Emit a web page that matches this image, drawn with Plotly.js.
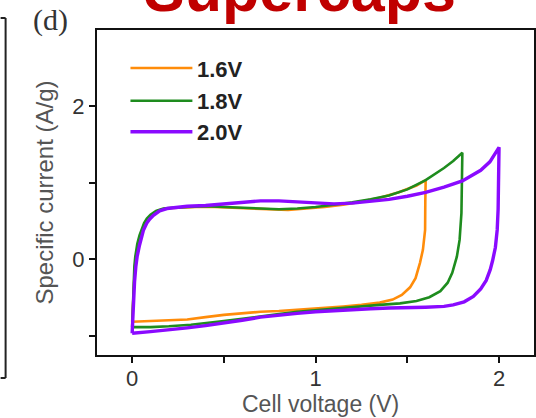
<!DOCTYPE html>
<html>
<head>
<meta charset="utf-8">
<script src="https://cdn.plot.ly/plotly-3.0.1.min.js"></script>
<style>
  html, body { margin: 0; padding: 0; background: #fff; overflow: hidden; }
  #chart { width: 536px; height: 418px; }
</style>
</head>
<body>
<div id="chart"></div>
<script>
// ---- Data (cell voltage in V, specific current in A/g), one closed CV loop per series ----
const seriesNames = ['1.6V', '1.8V', '2.0V'];
const seriesColors = ['#FF8C0A', '#1E8C1E', '#8A0AFF'];

const voltage16 = [0, 0.005, 0.01, 0.015, 0.021, 0.033, 0.045, 0.056, 0.072, 0.088, 0.108, 0.14, 0.18, 0.25, 0.35, 0.45, 0.55, 0.65, 0.75, 0.85, 0.95, 1.05, 1.15, 1.25, 1.35, 1.45, 1.55, 1.60,
  1.598, 1.597, 1.585, 1.569, 1.545, 1.515, 1.47, 1.42, 1.35, 1.25, 1.15, 1.04, 0.9, 0.8, 0.7, 0.59, 0.5, 0.4, 0.3, 0.2, 0.1, 0];
const current16 = [-0.82, -0.55, -0.30, -0.10, 0.03, 0.20, 0.31, 0.38, 0.47, 0.53, 0.58, 0.63, 0.66, 0.67, 0.68, 0.68, 0.67, 0.66, 0.65, 0.64, 0.66, 0.68, 0.71, 0.75, 0.80, 0.87, 0.96, 1.03,
  0.75, 0.38, 0.12, -0.05, -0.25, -0.37, -0.47, -0.53, -0.57, -0.60, -0.62, -0.64, -0.66, -0.68, -0.69, -0.71, -0.73, -0.76, -0.79, -0.80, -0.81, -0.82];

const voltage18 = [0, 0.004, 0.008, 0.012, 0.017, 0.028, 0.04, 0.05, 0.065, 0.08, 0.10, 0.13, 0.17, 0.22, 0.3, 0.4, 0.5, 0.6, 0.7, 0.8, 0.9, 1.0, 1.1, 1.2, 1.3, 1.4, 1.5, 1.6, 1.7, 1.75, 1.8,
  1.798, 1.795, 1.785, 1.77, 1.745, 1.72, 1.68, 1.62, 1.55, 1.46, 1.35, 1.25, 1.15, 1.04, 0.9, 0.8, 0.68, 0.6, 0.5, 0.4, 0.32, 0.2, 0.1, 0];
const current18 = [-0.89, -0.60, -0.30, -0.10, 0.03, 0.20, 0.31, 0.38, 0.47, 0.53, 0.58, 0.63, 0.66, 0.67, 0.68, 0.69, 0.68, 0.67, 0.66, 0.65, 0.66, 0.68, 0.71, 0.74, 0.78, 0.83, 0.91, 1.03, 1.19, 1.28, 1.39,
  0.95, 0.60, 0.25, 0.03, -0.18, -0.31, -0.42, -0.50, -0.55, -0.58, -0.60, -0.62, -0.64, -0.66, -0.69, -0.72, -0.76, -0.78, -0.81, -0.84, -0.86, -0.88, -0.89, -0.89];

const voltage20 = [0, 0.006, 0.013, 0.02, 0.027, 0.04, 0.05, 0.062, 0.08, 0.095, 0.116, 0.15, 0.19, 0.25, 0.3, 0.4, 0.5, 0.6, 0.7, 0.8, 0.9, 1.0, 1.1, 1.2, 1.3, 1.4, 1.5, 1.6, 1.7, 1.8, 1.9, 1.95, 2.0,
  1.998, 1.995, 1.99, 1.98, 1.965, 1.952, 1.93, 1.90, 1.86, 1.81, 1.75, 1.70, 1.6, 1.5, 1.4, 1.3, 1.2, 1.1, 1.0, 0.9, 0.8, 0.7, 0.6, 0.5, 0.4, 0.3, 0.2, 0.1, 0];
const current20 = [-0.97, -0.60, -0.30, -0.10, 0.03, 0.18, 0.28, 0.38, 0.47, 0.52, 0.57, 0.63, 0.66, 0.68, 0.69, 0.70, 0.72, 0.74, 0.76, 0.76, 0.75, 0.73, 0.72, 0.73, 0.75, 0.78, 0.82, 0.87, 0.94, 1.02, 1.16, 1.27, 1.46,
  1.0, 0.65, 0.38, 0.15, -0.02, -0.14, -0.28, -0.39, -0.49, -0.56, -0.60, -0.62, -0.63, -0.63, -0.64, -0.65, -0.66, -0.67, -0.69, -0.71, -0.73, -0.76, -0.80, -0.84, -0.87, -0.90, -0.93, -0.95, -0.97];

const xTickVals = [0, 0.5, 1, 1.5, 2];
const xTickText = ['0', '', '1', '', '2'];
const yTickVals = [-1, 0, 1, 2];
const yTickText = ['', '0', '', '2'];
const xTitle = 'Cell voltage (V)';
const yTitle = 'Specific current (A/g)';

// ---- Traces ----
const xs = [voltage16, voltage18, voltage20];
const ys = [current16, current18, current20];
const widths = [2.6, 2.6, 3.4];
const traces = seriesNames.map((name, i) => ({
  type: 'scatter', mode: 'lines', name: name,
  x: xs[i], y: ys[i],
  line: { color: seriesColors[i], width: widths[i], shape: 'linear' },
  hoverinfo: 'skip'
}));

// ---- Layout geometry (pixels -> paper) ----
const L = 96.5, R = 534, T = 30, B = 355;
const px2x = p => (p - L) / (R - L);
const py2y = p => (B - p) / (B - T);

const legendY = [68, 100.7, 131.7];
const shapes = [];
const annotations = [];
seriesNames.forEach((name, i) => {
  shapes.push({ type: 'line', xref: 'paper', yref: 'paper',
    x0: px2x(130), x1: px2x(192), y0: py2y(legendY[i]), y1: py2y(legendY[i]),
    line: { color: seriesColors[i], width: widths[i] } });
  annotations.push({ xref: 'paper', yref: 'paper', x: px2x(195), y: py2y(legendY[i] + 1),
    xanchor: 'left', yanchor: 'middle', showarrow: false, text: '<b>' + name + '</b>',
    font: { family: 'Liberation Sans, Arial, sans-serif', size: 22, color: '#222' } });
});

// neighbouring panel edge (left)
shapes.push({ type: 'line', xref: 'paper', yref: 'paper', x0: px2x(5), x1: px2x(5), y0: py2y(18), y1: py2y(378), line: { color: '#222', width: 2 } });
shapes.push({ type: 'line', xref: 'paper', yref: 'paper', x0: px2x(0), x1: px2x(5), y0: py2y(18), y1: py2y(18), line: { color: '#222', width: 2 } });
shapes.push({ type: 'line', xref: 'paper', yref: 'paper', x0: px2x(0), x1: px2x(5), y0: py2y(378), y1: py2y(378), line: { color: '#222', width: 2 } });

annotations.push({ xref: 'paper', yref: 'paper', x: px2x(50), y: py2y(20), xanchor: 'center', yanchor: 'middle',
  showarrow: false, text: '(d)', font: { family: 'Liberation Serif, Times New Roman, serif', size: 30, color: '#333' } });
annotations.push({ xref: 'paper', yref: 'paper', x: px2x(300), y: py2y(26), xanchor: 'center', yanchor: 'bottom',
  showarrow: false, text: '<b>Supercaps</b>', font: { family: 'Liberation Sans, Arial, sans-serif', size: 61, color: '#C00000' } });

const axisFont = { family: 'Liberation Sans, Arial, sans-serif', size: 22, color: '#333' };
const titleFont = { family: 'Liberation Sans, Arial, sans-serif', size: 24, color: '#555' };

// x-axis title placed as an annotation so it can sit close under the tick labels as in the source
annotations.push({ xref: 'paper', yref: 'paper', x: px2x(320), y: py2y(404), xanchor: 'center', yanchor: 'middle',
  showarrow: false, text: xTitle, font: { family: titleFont.family, size: 23, color: titleFont.color } });

const layout = {
  width: 536, height: 418,
  margin: { l: L, r: 536 - R, t: T, b: 418 - B, pad: 0 },
  paper_bgcolor: '#fff', plot_bgcolor: '#fff',
  showlegend: false,
  xaxis: {
    range: [(L - 131.7) / 183.65, (R - 131.7) / 183.65],
    tickvals: xTickVals, ticktext: xTickText,
    ticks: 'outside', ticklen: 6, tickwidth: 2, tickcolor: '#111',
    ticklabelstandoff: -3,
    showline: true, linecolor: '#111', linewidth: 2, mirror: true,
    showgrid: false, zeroline: false,
    tickfont: axisFont
  },
  yaxis: {
    range: [(259 - B) / 76.5, (259 - T) / 76.5],
    tickvals: yTickVals, ticktext: yTickText,
    ticks: 'outside', ticklen: 6, tickwidth: 2, tickcolor: '#111',
    showline: true, linecolor: '#111', linewidth: 2, mirror: true,
    showgrid: false, zeroline: false,
    tickfont: axisFont,
    title: { text: yTitle, font: titleFont, standoff: 12 }
  },
  shapes: shapes,
  annotations: annotations
};

Plotly.newPlot('chart', traces, layout, { displayModeBar: false, staticPlot: true });
</script>
</body>
</html>
